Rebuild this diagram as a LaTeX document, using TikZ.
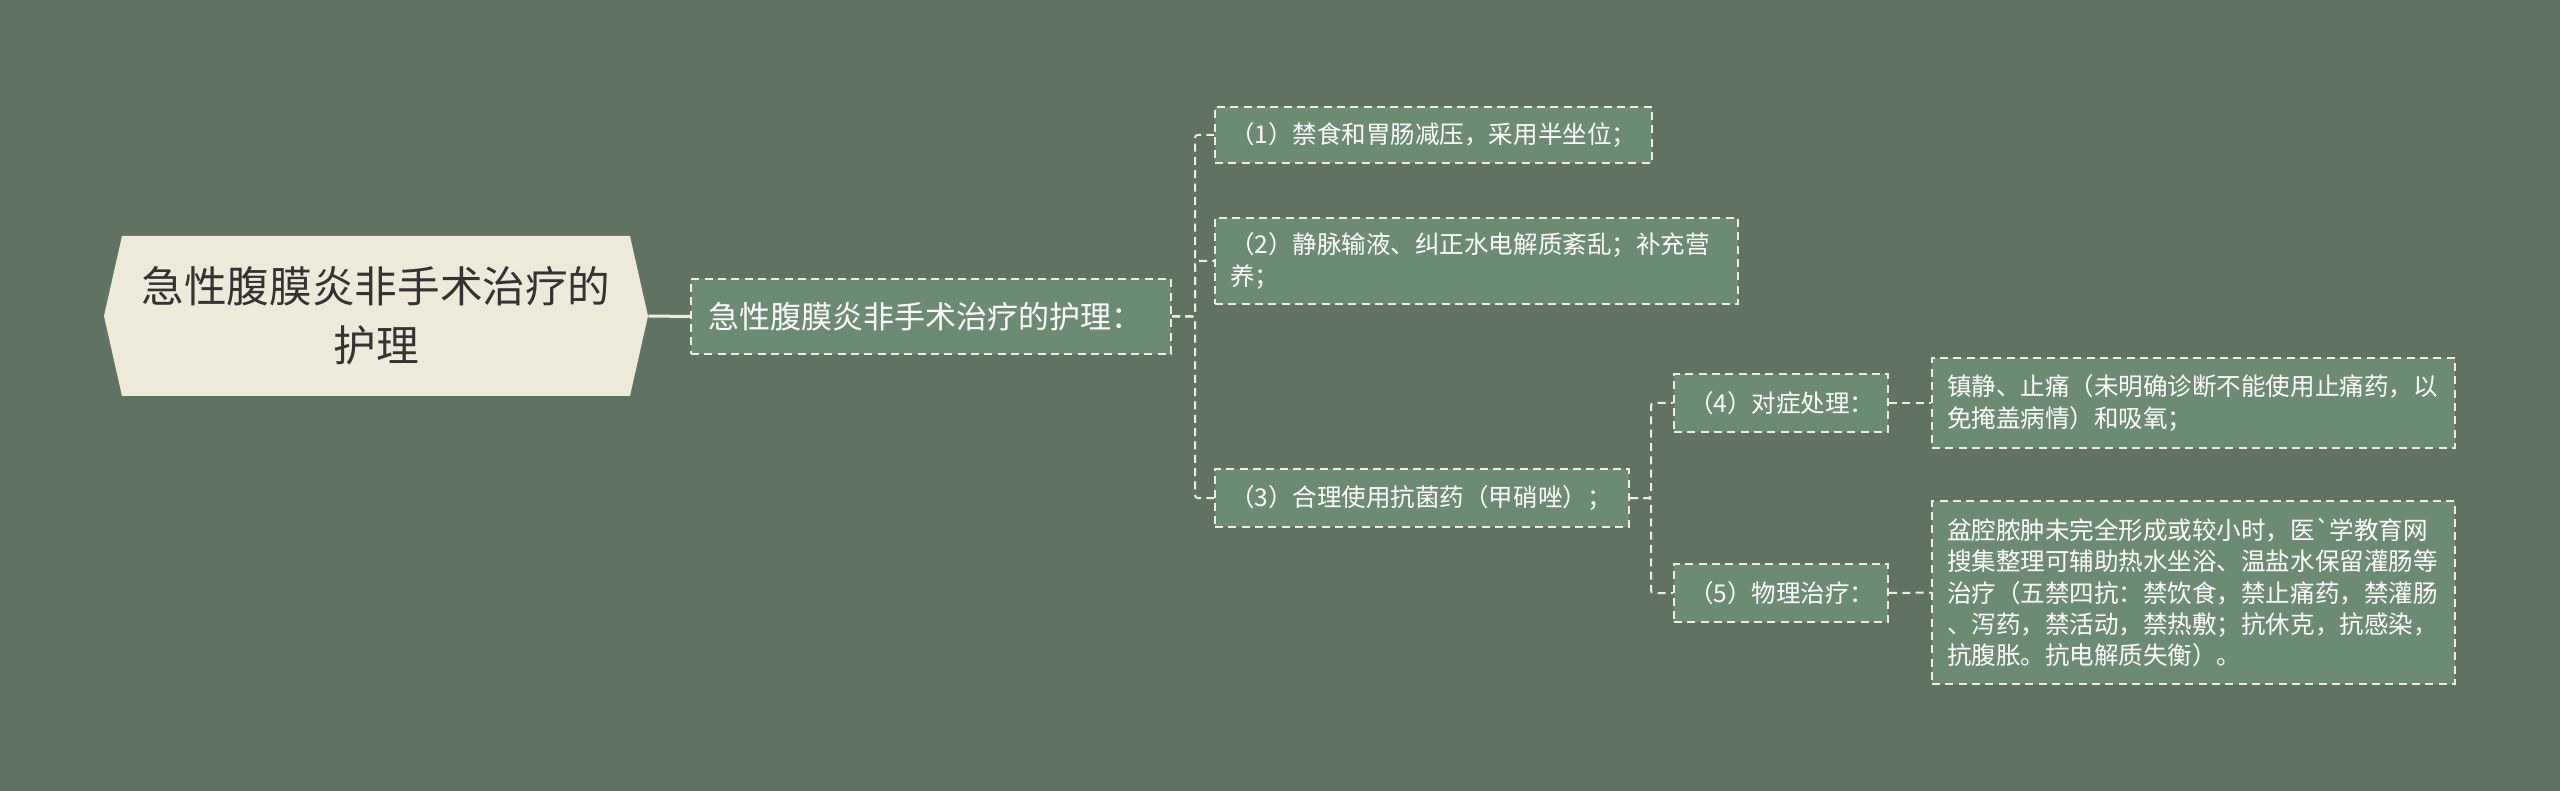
\documentclass[tikz,border=0pt]{standalone}
\usepackage{fontspec}
\setmainfont{Noto Sans CJK SC}
\usetikzlibrary{calc}
\definecolor{bgc}{HTML}{607261}
\definecolor{nodefill}{HTML}{6C8B73}
\definecolor{cream}{HTML}{F1EDDB}
\definecolor{rootfill}{HTML}{EEEAD9}
\definecolor{roottext}{HTML}{333333}
\begin{document}
\begin{tikzpicture}[x=0.75pt,y=-0.75pt,
  box/.style={draw=cream, fill=nodefill, line width=1.5pt, dash pattern=on 6pt off 4pt,
    text=white, font=\fontsize{18.4pt}{24.5pt}\selectfont, align=left, anchor=north west,
    inner xsep=11.25pt, inner ysep=0pt},
  conn/.style={draw=cream, line width=1.5pt, dash pattern=on 6pt off 4pt, rounded corners=2pt},
  solidconn/.style={draw=cream, line width=2.25pt}]
\fill[bgc] (0,0) rectangle (2560,791);
\useasboundingbox (0,0) rectangle (2560,791);
% root hexagon
\fill[rootfill] (122,236) -- (630,236) -- (648,316) -- (630,396) -- (122,396) -- (104,316) -- cycle;
\node[inner sep=0pt, minimum width=408pt, minimum height=120pt, text=roottext, align=center,
  font=\fontsize{32pt}{44pt}\selectfont] (root) at (376,316) {急性腹膜炎非手术治疗的\\护理};
% level 1
\node[box, font=\fontsize{23.25pt}{30pt}\selectfont, inner xsep=12.75pt, minimum width=360pt,
  text width=334.5pt, minimum height=56.25pt] (main) at (690,278) {急性腹膜炎非手术治疗的护理：};
% level 2
\node[box, minimum width=327.75pt, text width=305.25pt, minimum height=42pt] (n1) at (1214,106)
  {（1）禁食和胃肠减压，采用半坐位；};
\node[box, minimum width=392.25pt, text width=369.75pt, minimum height=64.5pt] (n2) at (1214,217)
  {（2）静脉输液、纠正水电解质紊乱；补充营\\养；};
\node[box, minimum width=310.5pt, text width=288pt, minimum height=43.5pt] (n3) at (1214,468)
  {（3）合理使用抗菌药（甲硝唑）；};
% level 3
\node[box, minimum width=160.5pt, text width=138pt, minimum height=43.5pt] (n4) at (1673,373)
  {（4）对症处理：};
\node[box, minimum width=160.5pt, text width=138pt, minimum height=43.5pt] (n5) at (1673,563)
  {（5）物理治疗：};
% level 4
\node[box, minimum width=392.25pt, text width=369.75pt, minimum height=67.5pt] (n6) at (1931,357)
  {镇静、止痛（未明确诊断不能使用止痛药，以\\免掩盖病情）和吸氧；};
\node[box, font=\fontsize{18.4pt}{23.6pt}\selectfont, minimum width=392.25pt, text width=369.75pt,
  minimum height=137.25pt] (n7) at (1931,500)
  {盆腔脓肿未完全形成或较小时，医\textasciigrave{}学教育网\\搜集整理可辅助热水坐浴、温盐水保留灌肠等\\治疗（五禁四抗：禁饮食，禁止痛药，禁灌肠\\、泻药，禁活动，禁热敷；抗休克，抗感染，\\抗腹胀。抗电解质失衡）。};
% connectors
\draw[solidconn] (root.east) -- (main.west);
\draw[conn] (main.east) -- ++(23,0) |- (n1.west);
\draw[conn] (main.east) -- ++(23,0) |- (n2.west);
\draw[conn] (main.east) -- ++(23,0) |- (n3.west);
\draw[conn] (n3.east) -- ++(21,0) |- (n4.west);
\draw[conn] (n3.east) -- ++(21,0) |- (n5.west);
\draw[conn] (n4.east) -- (n6.west);
\draw[conn] (n5.east) -- (n7.west);
\end{tikzpicture}
\end{document}
